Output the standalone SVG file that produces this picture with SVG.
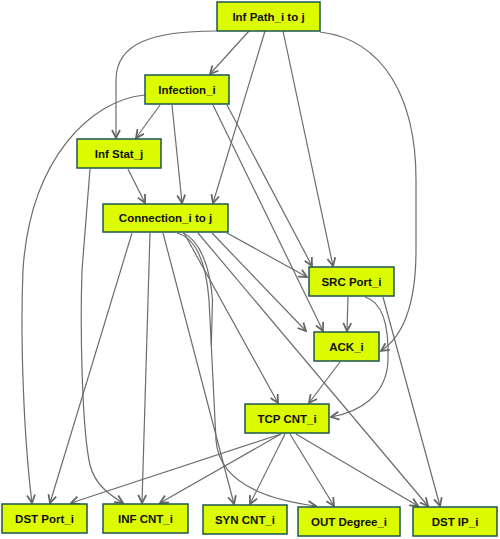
<svg xmlns="http://www.w3.org/2000/svg" width="500" height="539" viewBox="0 0 500 539">
<style>
.node rect{fill:#dcfb00;stroke:#1d5555;stroke-width:1.5}
.node text{font-family:"Liberation Sans",Arial,sans-serif;font-weight:bold;font-size:11.5px;fill:#111;text-anchor:middle;dominant-baseline:central}
.edges path{fill:none;stroke:#6c6c6c;stroke-width:1.2;marker-end:url(#arr)}
.edges path.nm{marker-end:none}
</style>
<defs>
<marker id="arr" viewBox="0 0 10 10" refX="9" refY="5" markerWidth="10" markerHeight="10" markerUnits="userSpaceOnUse" orient="auto">
<path d="M1,1 L9,5 L1,9" fill="none" stroke="#666" stroke-width="1.8"/>
</marker>
</defs>
<rect width="500" height="539" fill="#fff"/>
<g class="edges" id="connectors">
<path d="M249,31 L210,74"/>
<path d="M216,31 C155,31 116,42 116,80 L116,138"/>
<path d="M265,31 L213,203"/>
<path d="M283,31 L333,266"/>
<path d="M320,32 C385,40 416,100 416,180 L416,250 C416,300 405,335 381,351"/>
<path d="M160,105 L136,138"/>
<path d="M172,105 L182,203"/>
<path d="M213,105 L323,331"/>
<path d="M227,105 L312,266"/>
<path d="M145,95 C90,100 30,160 23,270 C20,340 24,440 32,503"/>
<path d="M128,169 L145,203"/>
<path d="M90,169 L82,270 C80,330 82,430 90,465 C95,485 110,495 123,503"/>
<path d="M132,233 L50,503"/>
<path d="M150,233 L142,503"/>
<path d="M163,233 L234,504"/>
<path d="M177,233 C196,238 206,262 209,300 L216,440 C219,485 270,500 316,506"/>
<path class="nm" d="M183,233 C199,240 210,265 212.5,300 L211.3,345"/>
<path d="M184,233 L278,403"/>
<path d="M198,233 L428,506"/>
<path d="M212,233 L306,331"/>
<path d="M227,233 L307,277"/>
<path d="M348,297 L347,331"/>
<path d="M365,297 C385,303 389,330 388,360 C387,395 360,412 331,417"/>
<path d="M383,297 L440,506"/>
<path d="M340,362 L309,403"/>
<path d="M281,434 L71,503"/>
<path d="M281,434 L160,503"/>
<path d="M285,434 L250,504"/>
<path d="M290,434 L334,506"/>
<path d="M296,434 L418,506"/>
</g>
<g class="node" id="n_infpath"><rect x="217" y="2" width="103" height="29"/><text x="268.5" y="17">Inf Path_i to j</text></g>
<g class="node" id="n_infection"><rect x="145" y="75" width="84" height="29"/><text x="187" y="90">Infection_i</text></g>
<g class="node" id="n_infstat"><rect x="77" y="139" width="84" height="29"/><text x="119" y="154">Inf Stat_j</text></g>
<g class="node" id="n_connection"><rect x="103" y="204" width="125" height="28"/><text x="165.5" y="218">Connection_i to j</text></g>
<g class="node" id="n_srcport"><rect x="309" y="267" width="85" height="29"/><text x="351.5" y="282">SRC Port_i</text></g>
<g class="node" id="n_ack"><rect x="314" y="332" width="65" height="29"/><text x="346.5" y="347">ACK_i</text></g>
<g class="node" id="n_tcpcnt"><rect x="245" y="404" width="84" height="29"/><text x="287" y="419">TCP CNT_i</text></g>
<g class="node" id="n_dstport"><rect x="2" y="504" width="85" height="29"/><text x="44.5" y="519">DST Port_i</text></g>
<g class="node" id="n_infcnt"><rect x="103" y="504" width="85" height="29"/><text x="145.5" y="519">INF CNT_i</text></g>
<g class="node" id="n_syncnt"><rect x="203" y="505" width="84" height="29"/><text x="245" y="520">SYN CNT_i</text></g>
<g class="node" id="n_outdeg"><rect x="298" y="507" width="102" height="29"/><text x="349" y="522">OUT Degree_i</text></g>
<g class="node" id="n_dstip"><rect x="413" y="507" width="84" height="29"/><text x="455" y="522">DST IP_i</text></g>
</svg>
